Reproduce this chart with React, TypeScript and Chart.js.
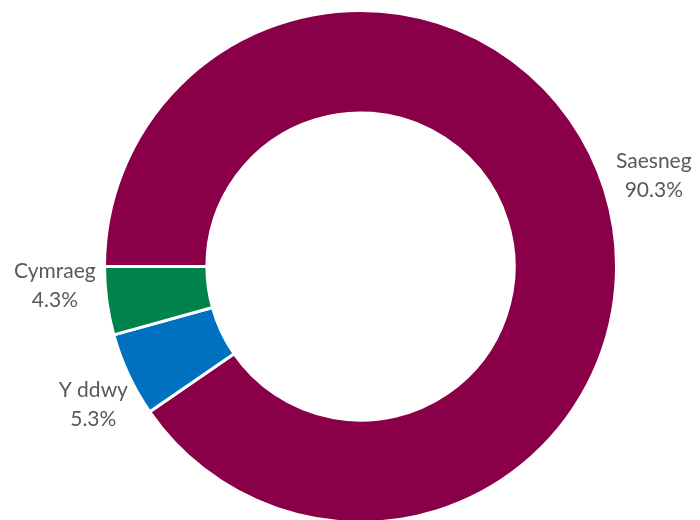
import React, { useEffect, useRef } from "react";
import { Chart, registerables } from "chart.js";

Chart.register(...registerables);

const categories = ["Saesneg", "Y ddwy", "Cymraeg"];
const values = [90.3, 5.3, 4.3];
const valueLabels = ["90.3%", "5.3%", "4.3%"];
const colors = ["#890048", "#0070C0", "#00834A"];

// label placement tweaks (angle offset in degrees, radius factor)
const labelAngleNudge = [0, -2.1, 4.2];
const labelRadiusFactor = [1.2, 1.173, 1.196];

const labelPlugin = {
  id: "outerLabels",
  afterDraw(chart: any) {
    const { ctx } = chart;
    const meta = chart.getDatasetMeta(0);
    ctx.save();
    ctx.fillStyle = "#595959";
    ctx.font = "21px Lato";
    ctx.textAlign = "center";
    ctx.textBaseline = "alphabetic";
    meta.data.forEach((arc: any, i: number) => {
      const { x, y, startAngle, endAngle, outerRadius } = arc.getProps(
        ["x", "y", "startAngle", "endAngle", "outerRadius"],
        true
      );
      const mid = (startAngle + endAngle) / 2 + (labelAngleNudge[i] * Math.PI) / 180;
      const r = outerRadius * labelRadiusFactor[i];
      const cx = x + Math.cos(mid) * r;
      const cy = y + Math.sin(mid) * r;
      ctx.fillText(categories[i], cx, cy - 7);
      ctx.fillText(valueLabels[i], cx, cy + 22);
    });
    ctx.restore();
  },
};

export default function App() {
  const ref = useRef<HTMLCanvasElement>(null);
  useEffect(() => {
    if (!ref.current) return;
    const chart = new Chart(ref.current, {
      type: "doughnut",
      data: {
        labels: categories,
        datasets: [
          {
            data: values,
            backgroundColor: colors,
            borderColor: "#ffffff",
            borderWidth: 3,
          },
        ],
      },
      options: {
        animation: false,
        responsive: true,
        maintainAspectRatio: false,
        rotation: -90,
        cutout: "60%",
        layout: { padding: { left: 103, right: 82, top: 9, bottom: 0 } },
        plugins: {
          legend: { display: false },
          tooltip: { enabled: false },
        },
      },
      plugins: [labelPlugin],
    });
    return () => chart.destroy();
  }, []);
  return (
    <div
      style={{
        position: "absolute",
        left: 0,
        top: 0,
        width: 700,
        height: 520,
        overflow: "hidden",
        background: "#fff",
      }}
    >
      <div style={{ position: "relative", width: 700, height: 524 }}>
        <canvas ref={ref} />
      </div>
    </div>
  );
}
